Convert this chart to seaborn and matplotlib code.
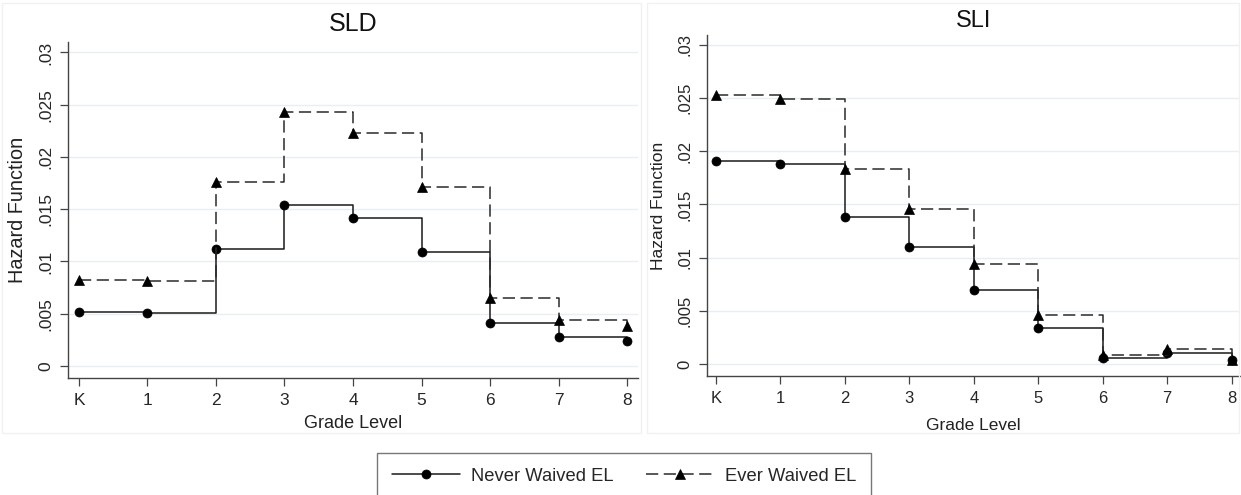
import numpy as np
import pandas as pd
import seaborn as sns
import matplotlib.pyplot as plt
from matplotlib.patches import Rectangle

# Valores (função de risco por série)
GRADES = [0, 1, 2, 3, 4, 5, 6, 7, 8]
GRADE_LABELS = ['K', '1', '2', '3', '4', '5', '6', '7', '8']
SLD_NEVER = [0.0052, 0.0051, 0.0112, 0.0154, 0.0142, 0.0109, 0.0041, 0.0028, 0.0024]
SLD_EVER = [0.0082, 0.0081, 0.0176, 0.0243, 0.0223, 0.0171, 0.0065, 0.0044, 0.0038]
SLI_NEVER = [0.0191, 0.0188, 0.0138, 0.0110, 0.0070, 0.0034, 0.0006, 0.0010, 0.0004]
SLI_EVER = [0.0253, 0.0249, 0.0183, 0.0146, 0.0094, 0.0046, 0.0008, 0.0014, 0.0004]
Y_TICKS = [0, 0.005, 0.01, 0.015, 0.02, 0.025, 0.03]
Y_TICK_LABELS = ['0', '.005', '.01', '.015', '.02', '.025', '.03']
GROUPS = ['Never Waived EL', 'Ever Waived EL']

sns.set_theme(style='white')
plt.rcParams['font.family'] = ['Liberation Sans', 'DejaVu Sans']

fig = plt.figure(figsize=(12.41, 4.95), dpi=100)

# molduras claras das duas regiões do gráfico
fig.patches.append(Rectangle((2 / 1241, 1 - 433 / 495), 639 / 1241, 430 / 495,
                             transform=fig.transFigure, fill=False,
                             edgecolor='#f1f1f1', lw=1))
fig.patches.append(Rectangle((647 / 1241, 1 - 433 / 495), 592 / 1241, 430 / 495,
                             transform=fig.transFigure, fill=False,
                             edgecolor='#f1f1f1', lw=1))

ax1 = fig.add_axes([68 / 1241, 1 - 378 / 495, 570 / 1241, 336 / 495])
ax2 = fig.add_axes([707 / 1241, 1 - 376 / 495, 533 / 1241, 341 / 495])

# (eixo, título, séries, limites, tamanho/pad do título, tamanho ylabel, ticks, xlabel, pad xlabel)
panels = [
    (ax1, 'SLD', SLD_NEVER, SLD_EVER, (-0.16, 8.16), (-0.00115, 0.031), 18, 8, 14.3, 12.5, 13, 5),
    (ax2, 'SLI', SLI_NEVER, SLI_EVER, (-0.14, 8.13), (-0.00113, 0.03094), 17, 6, 12.6, 12, 12.5, 9),
]

styles = {
    'Never Waived EL': dict(linestyle='-', marker='o', markersize=6.5, color='#1a1a1a'),
    'Ever Waived EL': dict(linestyle=(0, (8, 3.6)), marker='^', markersize=7.5, color='#2a2a2a'),
}

for ax, title, never, ever, xlim, ylim, tsize, tpad, ylsize, ticksize, xlsize, xlpad in panels:
    df = pd.DataFrame({
        'grade': GRADES * 2,
        'hazard': never + ever,
        'group': [GROUPS[0]] * len(GRADES) + [GROUPS[1]] * len(GRADES),
    })
    for g in GROUPS:
        sub = df[df['group'] == g]
        st = styles[g]
        sns.lineplot(data=sub, x='grade', y='hazard', ax=ax, label=g, legend=False,
                     drawstyle='steps-post', linewidth=1.1, color=st['color'],
                     linestyle=st['linestyle'], marker=st['marker'],
                     markersize=st['markersize'], markeredgecolor='black',
                     markerfacecolor='black', markeredgewidth=0.5, zorder=3)

    ax.set_xlim(*xlim)
    ax.set_ylim(*ylim)
    ax.set_xticks(GRADES)
    ax.set_xticklabels(GRADE_LABELS, fontsize=ticksize)
    ax.set_yticks(Y_TICKS)
    ax.set_yticklabels(Y_TICK_LABELS, fontsize=ticksize, rotation=90, va='center')
    ax.tick_params(axis='both', direction='out', length=5.5, width=0.9,
                   color='#444444', pad=5, left=True, bottom=True)
    ax.grid(True, axis='y', color='#e8eff3', linewidth=1.0)
    ax.grid(False, axis='x')
    for side in ['top', 'right']:
        ax.spines[side].set_visible(False)
    for side in ['left', 'bottom']:
        ax.spines[side].set_color('#444444')
        ax.spines[side].set_linewidth(1.0)
    ax.set_title(title, fontsize=tsize, pad=tpad, color='#111111')
    ax.set_xlabel('Grade Level', fontsize=xlsize, labelpad=xlpad, color='#222222')
    ax.set_ylabel('Hazard Function', fontsize=ylsize, labelpad=8, color='#222222')

handles, labels = ax1.get_legend_handles_labels()
leg = fig.legend(handles, labels, loc='upper center', bbox_to_anchor=(624 / 1241, 1 - 453 / 495),
                 ncol=2, fontsize=13.2, frameon=True, fancybox=False, handlelength=3.7,
                 handletextpad=0.6, columnspacing=1.75, borderpad=0.8, borderaxespad=0)
leg.get_frame().set_edgecolor('#555555')
leg.get_frame().set_linewidth(1.0)

fig.savefig('out.png', dpi=100)
